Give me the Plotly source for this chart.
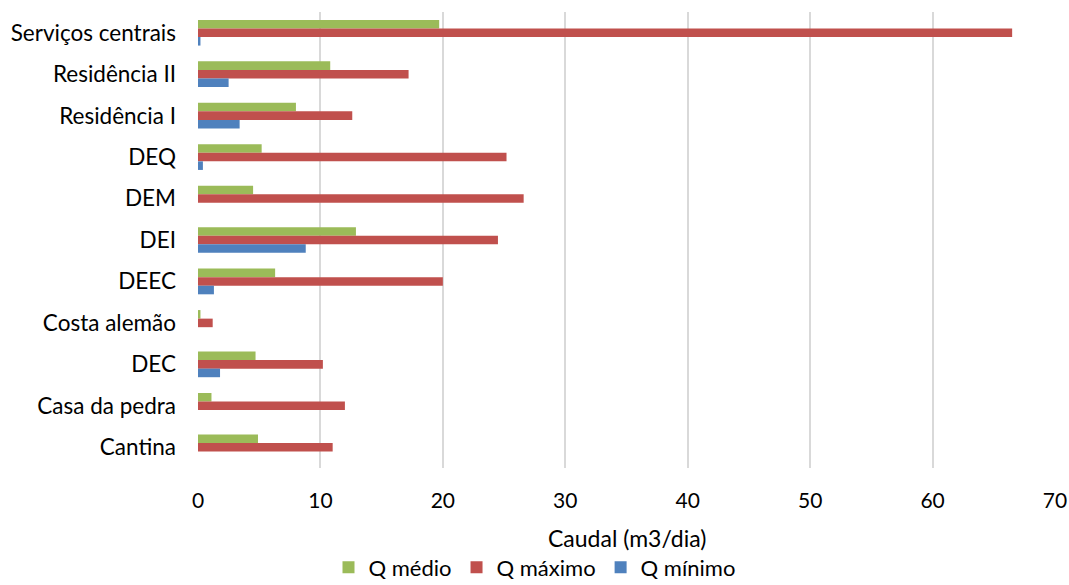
import plotly.graph_objects as go

# Buildings, listed top to bottom as displayed
edificios = ["Serviços centrais", "Residência II", "Residência I", "DEQ", "DEM",
             "DEI", "DEEC", "Costa alemão", "DEC", "Casa da pedra", "Cantina"]

# Flow rates (m3/dia)
q_medio = [19.7, 10.8, 8.0, 5.2, 4.5, 12.9, 6.3, 0.2, 4.7, 1.1, 4.9]
q_maximo = [66.5, 17.2, 12.6, 25.2, 26.6, 24.5, 20.0, 1.2, 10.2, 12.0, 11.0]
q_minimo = [0.2, 2.5, 3.4, 0.4, 0.0, 8.8, 1.3, 0.0, 1.8, 0.0, 0.0]

x_ticks = [0, 10, 20, 30, 40, 50, 60, 70]
x_title = "Caudal (m3/dia)"

FONT = "Lato, Open Sans, sans-serif"

fig = go.Figure()
fig.add_trace(go.Bar(y=edificios, x=q_medio, name="Q médio", orientation="h",
                     marker=dict(color="#9BBB59", line=dict(width=0))))
fig.add_trace(go.Bar(y=edificios, x=q_maximo, name="Q máximo", orientation="h",
                     marker=dict(color="#C0504D", line=dict(width=0))))
fig.add_trace(go.Bar(y=edificios, x=q_minimo, name="Q mínimo", orientation="h",
                     marker=dict(color="#4F81BD", line=dict(width=0))))

fig.update_layout(
    width=1069, height=585,
    margin=dict(l=198, r=14, t=12, b=117),
    paper_bgcolor="white", plot_bgcolor="white",
    barmode="group", bargap=0.38, bargroupgap=0,
    font=dict(family=FONT, size=22, color="#000000"),
    showlegend=True,
    legend=dict(orientation="h", xref="container", x=0.5, xanchor="center",
                yref="container", y=0.03, yanchor="middle",
                font=dict(size=22), itemwidth=30, traceorder="normal"),
    xaxis=dict(range=[0, 70], tickvals=x_ticks, showgrid=True, automargin=False,
               gridcolor="#D9D9D9", gridwidth=1.5, zeroline=False,
               showline=False, ticks="", ticklabelstandoff=18,
               tickfont=dict(size=21)),
    yaxis=dict(autorange="reversed", showgrid=False, zeroline=False, automargin=False,
               showline=False, ticks="", ticklabelstandoff=21,
               tickfont=dict(size=22.5)),
)

# Axis title placed below the tick labels
fig.add_annotation(text=x_title, xref="paper", yref="paper", x=0.5, y=-0.154,
                   xanchor="center", yanchor="middle", showarrow=False,
                   font=dict(size=23))

fig.write_html("out.html")
